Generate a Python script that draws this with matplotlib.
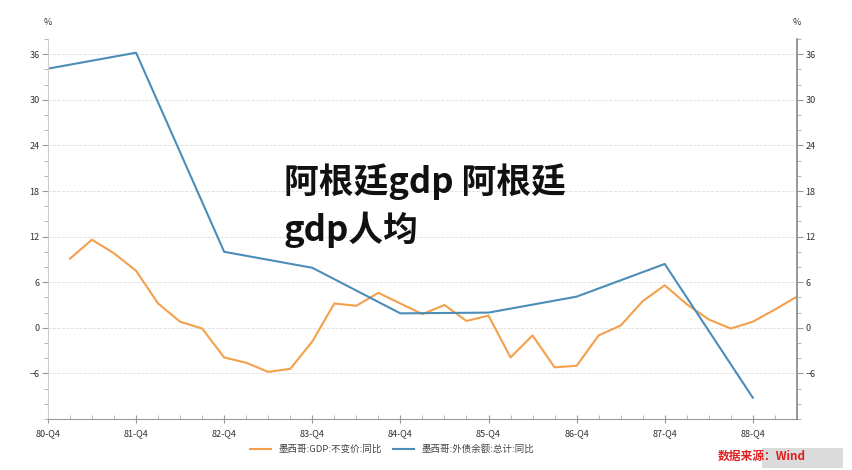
import matplotlib.pyplot as plt
from matplotlib.patches import Rectangle
from matplotlib.ticker import MultipleLocator

plt.rcParams['font.family'] = ['Noto Sans CJK SC', 'DejaVu Sans']

# quarters from 80-Q4 (index 0) to 89-Q2 (index 34)
quarter_labels = ['80-Q4', '81-Q4', '82-Q4', '83-Q4', '84-Q4',
                  '85-Q4', '86-Q4', '87-Q4', '88-Q4']

# 墨西哥:GDP:不变价:同比, quarterly from 81-Q1
gdp_x = list(range(1, 35))
gdp = [9.1, 11.6, 9.8, 7.5, 3.2, 0.8, -0.1, -3.9, -4.6, -5.8, -5.4, -1.8,
       3.2, 2.9, 4.6, 3.2, 1.8, 3.0, 0.9, 1.6, -3.9, -1.0, -5.2, -5.0,
       -1.0, 0.3, 3.5, 5.6, 3.1, 1.1, -0.1, 0.8, 2.4, 4.1]

# 墨西哥:外债余额:总计:同比, yearly at Q4
debt_x = [0, 4, 8, 12, 16, 20, 24, 28, 32]
debt = [34.1, 36.2, 10.0, 7.9, 1.9, 2.0, 4.1, 8.4, -9.2]

orange = '#F2A04B'
blue = '#4C8DB8'

fig = plt.figure(figsize=(8.52, 4.70), dpi=100)
ax = fig.add_axes([0.0563, 0.1085, 0.879, 0.8085])

ax.plot(gdp_x, gdp, color=orange, lw=1.5, label='墨西哥:GDP:不变价:同比')
ax.plot(debt_x, debt, color=blue, lw=1.5, label='墨西哥:外债余额:总计:同比')

ax.set_xlim(0, 34)
ax.set_ylim(-12, 38)
ax.set_yticks([-6, 0, 6, 12, 18, 24, 30, 36])
ax.yaxis.set_minor_locator(MultipleLocator(2))
ax.set_xticks(debt_x)
ax.set_xticklabels(quarter_labels)
ax.xaxis.set_minor_locator(MultipleLocator(1))
ax.grid(axis='y', color='#dddddd', ls='--', lw=0.6)

ax2 = ax.twinx()
ax2.set_ylim(ax.get_ylim())
ax2.set_yticks(ax.get_yticks())
ax2.yaxis.set_minor_locator(MultipleLocator(2))

for a in (ax, ax2):
    a.spines['top'].set_visible(False)
    a.tick_params(axis='y', which='major', length=4, width=0.8, color='#999999',
                  labelsize=6.5, labelcolor='#333333', pad=2)
    a.tick_params(axis='y', which='minor', length=3, width=0.6, color='#aaaaaa')
ax.spines['left'].set_color('#cccccc')
ax.spines['right'].set_visible(False)
ax2.spines['left'].set_visible(False)
ax2.spines['right'].set_color('#888888')
ax2.spines['right'].set_linewidth(1.2)
ax2.spines['bottom'].set_visible(False)
ax.spines['bottom'].set_color('#999999')
ax.tick_params(axis='x', which='major', direction='inout', length=6, width=0.8,
               color='#999999', labelsize=6.5, labelcolor='#333333', pad=4)
ax.tick_params(axis='x', which='minor', direction='in', length=3, width=0.6,
               color='#aaaaaa')

fig.text(0.0563, 0.953, '%', fontsize=6.5, color='#333333', ha='center', va='center')
fig.text(0.9354, 0.953, '%', fontsize=6.5, color='#333333', ha='center', va='center')

ax.legend(loc='upper center', bbox_to_anchor=(0.46, -0.045), ncol=2,
          frameon=False, fontsize=6.8, handlelength=2.2, columnspacing=1.2,
          labelcolor='#444444')

fig.text(0.333, 0.562, '阿根廷gdp 阿根廷\ngdp人均', fontsize=25, fontweight='black',
         color='#111111', va='center', ha='left', linespacing=1.4)

fig.text(0.842, 0.028, '数据来源：Wind', fontsize=8.5, fontweight='bold',
         color='#e02020', ha='left', va='center')
fig.patches.append(Rectangle((0.894, 0.005), 0.096, 0.042, transform=fig.transFigure,
                             facecolor='#cccccc', alpha=0.7, edgecolor='none'))

fig.savefig('out.png', dpi=100)
